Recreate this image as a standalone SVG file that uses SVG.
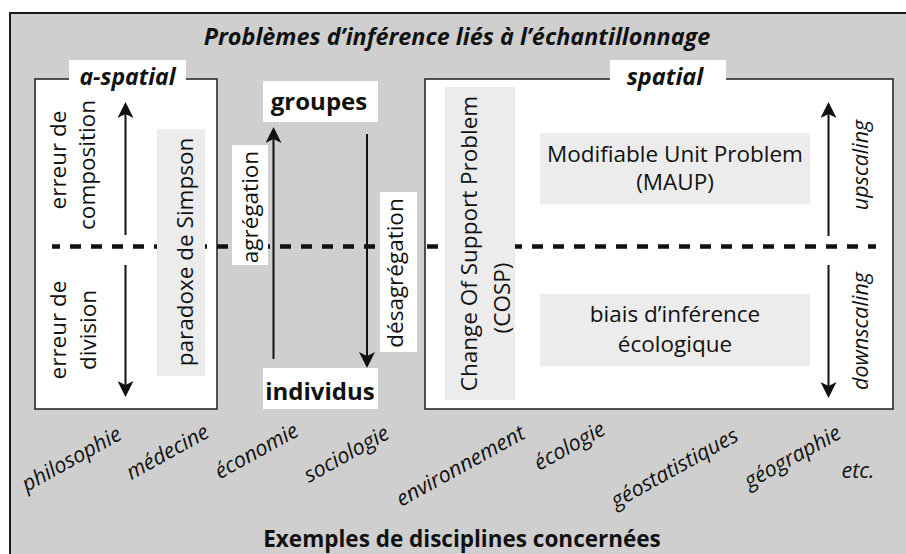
<svg xmlns="http://www.w3.org/2000/svg" width="906" height="554" viewBox="0 0 906 554">
  <style>
    text { font-family: "Open Sans", "Liberation Sans", sans-serif; fill: #111; }
    .reg { font-size: 22.5px; }
    .bold { font-size: 24px; font-weight: bold; }
    .bi { font-weight: bold; font-style: italic; }
    .it { font-style: italic; font-size: 21.5px; }
    .disc { font-style: italic; font-size: 21.5px; }
    .box { fill: #fff; stroke: #2a2a2a; stroke-width: 1.6; }
    .lbl { fill: #fff; }
    .note { fill: #ececec; }
    .arr { stroke: #111; stroke-width: 2; fill: none; marker-end: url(#ah); }
  </style>
  <defs>
    <marker id="ah" viewBox="0 0 16 16" refX="4" refY="8" markerWidth="16" markerHeight="16" markerUnits="userSpaceOnUse" orient="auto">
      <path d="M0,0 L16,8 L0,16 L4,8 Z" fill="#111"/>
    </marker>
  </defs>

  <rect x="0" y="0" width="906" height="554" fill="#fff"/>
  <g id="frame">
    <rect x="10" y="13" width="910" height="560" fill="#cfcfcf" stroke="#1a1a1a" stroke-width="2"/>
    <text class="bi" x="457" y="45" font-size="23.4" text-anchor="middle">Problèmes d’inférence liés à l’échantillonnage</text>
    <text x="462" y="547" font-size="22.5" font-weight="bold" text-anchor="middle">Exemples de disciplines concernées</text>
  </g>

  <g id="a-spatial">
    <rect class="box" x="35" y="79" width="182" height="330"/>
    <rect class="lbl" x="69" y="60" width="117" height="20"/>
    <text class="bi" x="127.5" y="85" font-size="23" text-anchor="middle">a-spatial</text>
  </g>

  <g id="spatial">
    <rect class="box" x="425" y="79" width="468" height="330"/>
    <rect class="lbl" x="610" y="60" width="116" height="20"/>
    <text class="bi" x="665" y="85" font-size="23.5" text-anchor="middle">spatial</text>
  </g>

  <g id="separator">
    <line x1="52" y1="246.5" x2="876" y2="246.5" stroke="#111" stroke-width="4.5" stroke-dasharray="11 10" stroke-dashoffset="3"/>
  </g>

  <g id="groupes">
    <rect class="lbl" x="263" y="81" width="115" height="41"/>
    <text class="bold" x="319" y="110" text-anchor="middle">groupes</text>
  </g>
  <g id="individus">
    <rect class="lbl" x="263" y="368" width="115" height="41"/>
    <text class="bold" x="320" y="400" text-anchor="middle">individus</text>
  </g>

  <g id="paradoxe">
    <rect class="note" x="157" y="129" width="48" height="247"/>
    <text class="reg" transform="translate(193,252) rotate(-90)" text-anchor="middle">paradoxe de Simpson</text>
  </g>

  <g id="erreur-composition">
    <text class="reg" transform="translate(66,160) rotate(-90)" text-anchor="middle">erreur de</text>
    <text class="reg" transform="translate(95,165) rotate(-90)" text-anchor="middle">composition</text>
  </g>
  <g id="erreur-division">
    <text class="reg" transform="translate(66,330) rotate(-90)" text-anchor="middle">erreur de</text>
    <text class="reg" transform="translate(96,330) rotate(-90)" text-anchor="middle">division</text>
  </g>

  <g id="agregation">
    <rect class="lbl" x="232" y="145" width="36" height="120"/>
    <text class="reg" transform="translate(258,207) rotate(-90)" text-anchor="middle">agrégation</text>
  </g>
  <g id="desagregation">
    <rect class="lbl" x="380" y="192" width="37" height="160"/>
    <text class="reg" transform="translate(403,273) rotate(-90)" text-anchor="middle">désagrégation</text>
  </g>

  <g id="cosp">
    <rect class="note" x="445" y="87" width="70" height="313"/>
    <text class="reg" transform="translate(477,243.5) rotate(-90)" text-anchor="middle">Change Of Support Problem</text>
    <text class="reg" transform="translate(510,298) rotate(-90)" text-anchor="middle">(COSP)</text>
  </g>

  <g id="maup">
    <rect class="note" x="540" y="133" width="270" height="71"/>
    <text class="reg" x="675" y="162" text-anchor="middle">Modifiable Unit Problem</text>
    <text class="reg" x="675" y="190" text-anchor="middle">(MAUP)</text>
  </g>

  <g id="biais">
    <rect class="note" x="540" y="294" width="270" height="72"/>
    <text class="reg" x="675" y="322" text-anchor="middle">biais d’inférence</text>
    <text class="reg" x="675" y="352" text-anchor="middle">écologique</text>
  </g>

  <g id="scaling-labels">
    <text class="it" transform="translate(868,165) rotate(-90)" text-anchor="middle">upscaling</text>
    <text class="it" transform="translate(868,331) rotate(-90)" text-anchor="middle">downscaling</text>
  </g>

  <g id="connectors">
    <line class="arr" x1="125.5" y1="235" x2="125.5" y2="114"/>
    <line class="arr" x1="125.5" y1="265" x2="125.5" y2="385"/>
    <line class="arr" x1="273.5" y1="359" x2="273.5" y2="139"/>
    <line class="arr" x1="367" y1="134" x2="367" y2="356"/>
    <line class="arr" x1="828.5" y1="236" x2="828.5" y2="114"/>
    <line class="arr" x1="828.5" y1="265" x2="828.5" y2="386"/>
  </g>

  <g id="disciplines">
    <text class="disc" transform="translate(72,460) rotate(-29)" text-anchor="middle" y="6">philosophie</text>
    <text class="disc" transform="translate(168,453) rotate(-29)" text-anchor="middle" y="6">médecine</text>
    <text class="disc" transform="translate(257,452) rotate(-29)" text-anchor="middle" y="6">économie</text>
    <text class="disc" transform="translate(347,455) rotate(-29)" text-anchor="middle" y="6">sociologie</text>
    <text class="disc" transform="translate(461,467) rotate(-29)" text-anchor="middle" y="6">environnement</text>
    <text class="disc" transform="translate(570,447) rotate(-29)" text-anchor="middle" y="6">écologie</text>
    <text class="disc" transform="translate(675,469) rotate(-29)" text-anchor="middle" y="6">géostatistiques</text>
    <text class="disc" transform="translate(793,458) rotate(-29)" text-anchor="middle" y="6">géographie</text>
    <text class="disc" x="858" y="478" text-anchor="middle">etc.</text>
  </g>
</svg>
